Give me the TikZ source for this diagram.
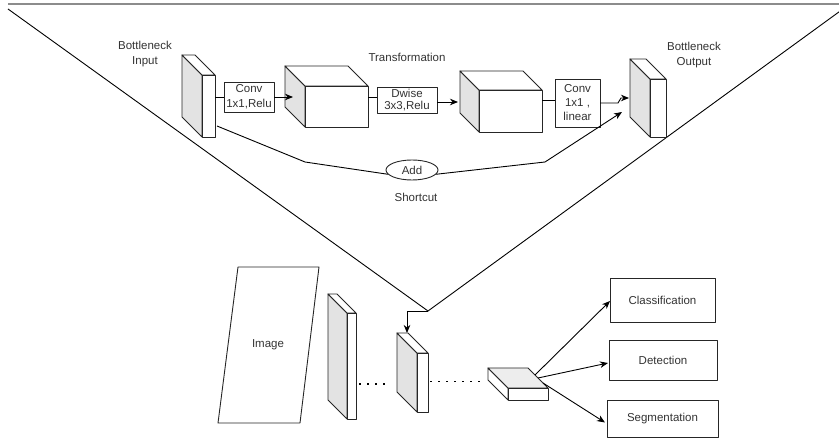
\documentclass[tikz,border=0pt]{standalone}
\usepackage{fontspec}
\setmainfont{Liberation Sans}
\usetikzlibrary{arrows.meta,shapes.geometric,calc}
\definecolor{ink}{HTML}{333333}
\definecolor{facegray}{HTML}{E3E3E3}
\definecolor{topgray}{HTML}{EDEDED}
\definecolor{rulegray}{HTML}{8C8C8C}

% A slab drawn as a front face (named node) with a side face and a top face.
% #1 name, #2 x1, #3 y1, #4 x2, #5 y2 (front face), #6 depth, #7 side fill, #8 top fill
\newcommand\drawslab[8]{%
  \filldraw[faceline, fill=#7] (#2,#3) -- ++(-#6,-#6) -- ++(0,#5-#3) -- (#2,#5) -- cycle;
  \filldraw[faceline, fill=#8] (#2,#3) -- ++(-#6,-#6) -- ++(#4-#2,0) -- (#4,#3) -- cycle;
  \node[front, minimum width={(#4-#2)*1pt}, minimum height={(#5-#3)*1pt}] (#1) at ({(#2+#4)/2},{(#3+#5)/2}) {};
}

\begin{document}
\begin{tikzpicture}[x=1pt,y=-1pt,
  every node/.style={font=\fontsize{11.5}{15}\selectfont, text=ink},
  wire/.style={draw=black, line width=0.9pt},
  arr/.style={wire, -{Stealth[length=8pt,width=6.5pt,inset=2.5pt]}},
  faceline/.style={draw=black!85, line width=0.9pt, line join=round},
  front/.style={faceline, fill=white, inner sep=0pt, outer sep=0pt},
  opbox/.style={faceline, fill=white, inner sep=0pt, outer sep=0pt, align=center},
  taskbox/.style={faceline, fill=white, inner sep=0pt, outer sep=0pt},
  dots/.style={draw=black, line width=1.4pt, dash pattern=on 1.6pt off 6.4pt},
]
\useasboundingbox (0,0) rectangle (839,438);

% frame of the zoomed-in bottleneck
\draw[rulegray, line width=1.5pt] (8,4) -- (839,4);
\coordinate (vtip) at (428,311);
\begin{scope}
  \clip (0,0) rectangle (839,438);
  \draw[wire] (8,9) -- (vtip) -- (843,9);
\end{scope}

% ---------- bottleneck block ----------
\node[align=center] (binlabel) at (145,54) {Bottleneck\\Input};
\node (translabel) at (407,57) {Transformation};
\node[align=center] (boutlabel) at (694,55) {Bottleneck\\Output};

\drawslab{bin}{202}{75}{215}{137}{20}{facegray}{white}
\drawslab{bmid}{305}{86}{368}{127}{20}{facegray}{white}
\drawslab{bdw}{479}{90}{542}{132}{19}{facegray}{white}
\drawslab{bout}{650}{79}{666}{137}{20}{facegray}{white}

\node[opbox, minimum width=50pt, minimum height=30pt] (conv1) at (249,97) {Conv\\1x1,Relu};
\node[opbox, minimum width=60pt, minimum height=26pt,
      font=\fontsize{11.5}{12.5}\selectfont] (dwise) at (407,100) {Dwise\\3x3,Relu};
\node[opbox, minimum width=45pt, minimum height=48pt,
      font=\fontsize{11.5}{14}\selectfont] (conv2) at (577.5,103) {Conv\\1x1 ,\\linear};

\draw[wire] (conv1.west) -- (conv1.west -| bin.east);
\draw[arr] (conv1.east) -- ($(conv1.east -| bmid.west)+(-12,0)$);
\draw[wire] ($(dwise.west)+(0,-3)$) -- ($(dwise.west -| bmid.east)+(0,-3)$);
\draw[arr] ($(dwise.east)+(0,2)$) -- ($(dwise.east -| bdw.west)+(-21,2)$);
\draw[wire] ($(conv2.west)+(0,-3)$) -- ($(conv2.west -| bdw.east)+(0,-3)$);
\draw[arr] (conv2.east) -- ++(18,0) -- ++(3,-5) -- ($(bout.west)+(-21,-10)$);

% shortcut through the add
\node[draw=black!85, line width=0.9pt, ellipse, inner sep=0pt,
      minimum width=52pt, minimum height=20pt] (add) at (412,170) {Add};
\node (shortlabel) at (416,197) {Shortcut};
\draw[wire] ($(bin.south east)+(2,-11)$) -- (305,162) -- (add.190);
\draw[arr] (add.350) -- (545,162) -- ($(bout.west)+(-28,4)$);

% ---------- network ----------
\draw[faceline] (238,267) -- (319,267) -- (300,423) -- (218,423) -- cycle;
\node (imglabel) at (268,345) {Image};

\drawslab{fa}{347}{313}{356}{419}{19}{facegray}{white}
\drawslab{fb}{417}{353}{428}{412}{20}{facegray}{white}
\drawslab{fc}{508}{388}{548}{400}{20}{white}{topgray}

\draw[dots] ($(fa.east)+(3,18)$) -- ++(28,0);
\draw[dots] ($(fb.east)+(2,-1)$) -- ++(50,0);

\draw[arr] (vtip) -| ($(fb.north west)+(-10,-20)$);

\node[taskbox, minimum width=105pt, minimum height=44pt] (cls) at (662.5,300) {Classification};
\node[taskbox, minimum width=108pt, minimum height=40pt] (det) at (663,360) {Detection};
\node[taskbox, minimum width=111pt, minimum height=37pt] (seg) at (662.5,418.5) {Segmentation};

\draw[arr] ($(fc.north east)+(-13,-13)$) -- ($(cls.west)+(0,1)$);
\draw[arr] ($(fc.north east)+(-10,-10)$) -- ($(det.west)+(-1,3)$);
\draw[arr] ($(fc.north east)+(-5,-5)$) -- ($(seg.west)+(-2,4)$);
\end{tikzpicture}
\end{document}
